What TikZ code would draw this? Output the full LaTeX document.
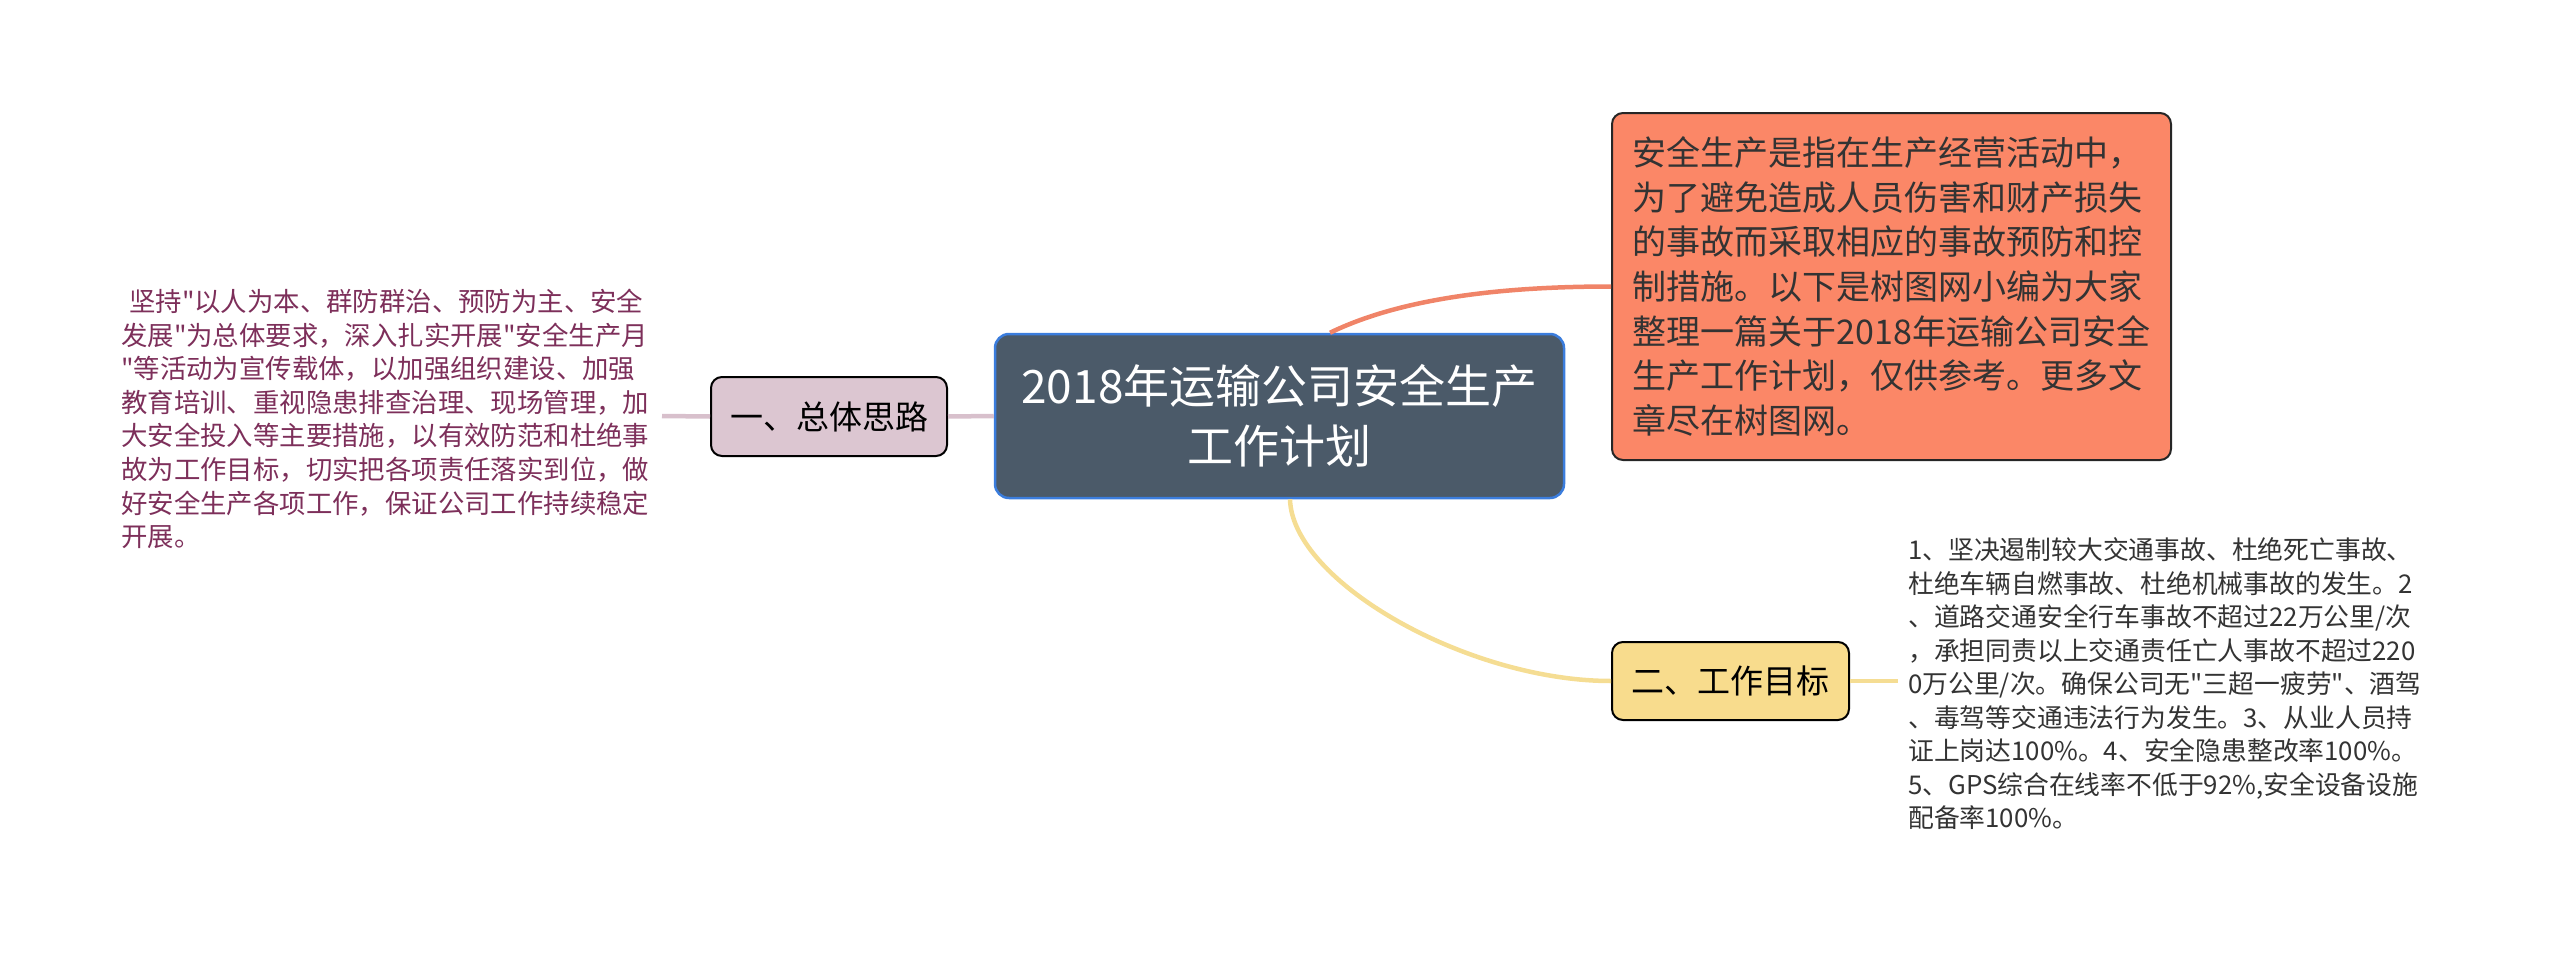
\documentclass[tikz,border=0pt]{standalone}
\usepackage{fontspec}
\setmainfont{Noto Sans CJK SC}
\newfontfamily\cjk{Noto Sans CJK SC}
\definecolor{rootfill}{HTML}{4B5A69}
\definecolor{rootline}{HTML}{3B7DDD}
\definecolor{orfill}{HTML}{FB8767}
\definecolor{orline}{HTML}{F08468}
\definecolor{pkfill}{HTML}{DCC6D1}
\definecolor{pkline}{HTML}{D8C0CC}
\definecolor{ylfill}{HTML}{F8DC8D}
\definecolor{ylline}{HTML}{F5DD93}
\definecolor{purtext}{HTML}{7D2F5A}
\definecolor{darktext}{HTML}{333333}
\tikzset{
  topicbox/.style={draw=black, line width=2pt, rounded corners=11pt, inner sep=0pt, text=black,
    font=\cjk\fontsize{33}{40}\selectfont},
  notetext/.style={inner sep=0pt, anchor=west, align=left},
  conn/.style={line width=4.5pt},
}
\begin{document}
\begin{tikzpicture}[x=1pt,y=-1pt]
\useasboundingbox (0,0) rectangle (2560,958);
% root
\node[draw=rootline, line width=2.5pt, fill=rootfill, rounded corners=14pt, minimum width=569pt, minimum height=164pt,
  text=white, align=center, inner sep=0pt, font=\cjk\fontsize{46}{60}\selectfont] (root) at (1279.5,416)
  {2018年运输公司安全生产\\工作计划};
% left topic
\node[topicbox, fill=pkfill, minimum width=236pt, minimum height=79pt] (l1) at (829,416.5) {一、总体思路};
\node[notetext, text=purtext, font=\cjk\fontsize{26.4}{33.6}\selectfont] (ltext) at (121,419)
  {\hspace*{8pt}坚持"以人为本、群防群治、预防为主、安全\\
   发展"为总体要求，深入扎实开展"安全生产月\\
   "等活动为宣传载体，以加强组织建设、加强\\
   教育培训、重视隐患排查治理、现场管理，加\\
   大安全投入等主要措施，以有效防范和杜绝事\\
   故为工作目标，切实把各项责任落实到位，做\\
   好安全生产各项工作，保证公司工作持续稳定\\
   开展。};
\coordinate (lend) at (662,416);
% right top box
\node[draw=black!85, line width=2pt, fill=orfill, rounded corners=11pt, minimum width=559pt, minimum height=347pt,
  text=darktext, align=left, inner sep=0pt, font=\cjk\fontsize{34}{44.6}\selectfont] (r1) at (1891.5,286.5)
  {安全生产是指在生产经营活动中，\\
   为了避免造成人员伤害和财产损失\\
   的事故而采取相应的事故预防和控\\
   制措施。以下是树图网小编为大家\\
   整理一篇关于2018年运输公司安全\\
   生产工作计划，仅供参考。更多文\\
   章尽在树图网。};
% right bottom topic
\node[topicbox, fill=ylfill, minimum width=237pt, minimum height=78pt] (r2) at (1730.5,681) {二、工作目标};
\node[notetext, text=darktext, font=\cjk\fontsize{25.8}{33.5}\selectfont] (rtext) at (1908,684)
  {1、坚决遏制较大交通事故、杜绝死亡事故、\\
   杜绝车辆自燃事故、杜绝机械事故的发生。2\\
   、道路交通安全行车事故不超过22万公里/次\\
   ，承担同责以上交通责任亡人事故不超过220\\
   0万公里/次。确保公司无"三超一疲劳"、酒驾\\
   、毒驾等交通违法行为发生。3、从业人员持\\
   证上岗达100\%。4、安全隐患整改率100\%。\\
   5、GPS综合在线率不低于92\%,安全设备设施\\
   配备率100\%。};
\coordinate (rend) at (1898,681);
% connectors
\draw[conn, pkline] (root.west) -- (l1.east);
\draw[conn, pkline] (l1.west) -- (lend);
\draw[conn, orline] ([xshift=50.5pt]root.north) .. controls +(70,-34) and +(-112,0) .. (r1.west);
\draw[conn, ylline] ([xshift=10.5pt]root.south) .. controls +(2,82) and +(-144,0) .. (r2.west);
\draw[conn, ylline] (r2.east) -- (rend);
\end{tikzpicture}
\end{document}
